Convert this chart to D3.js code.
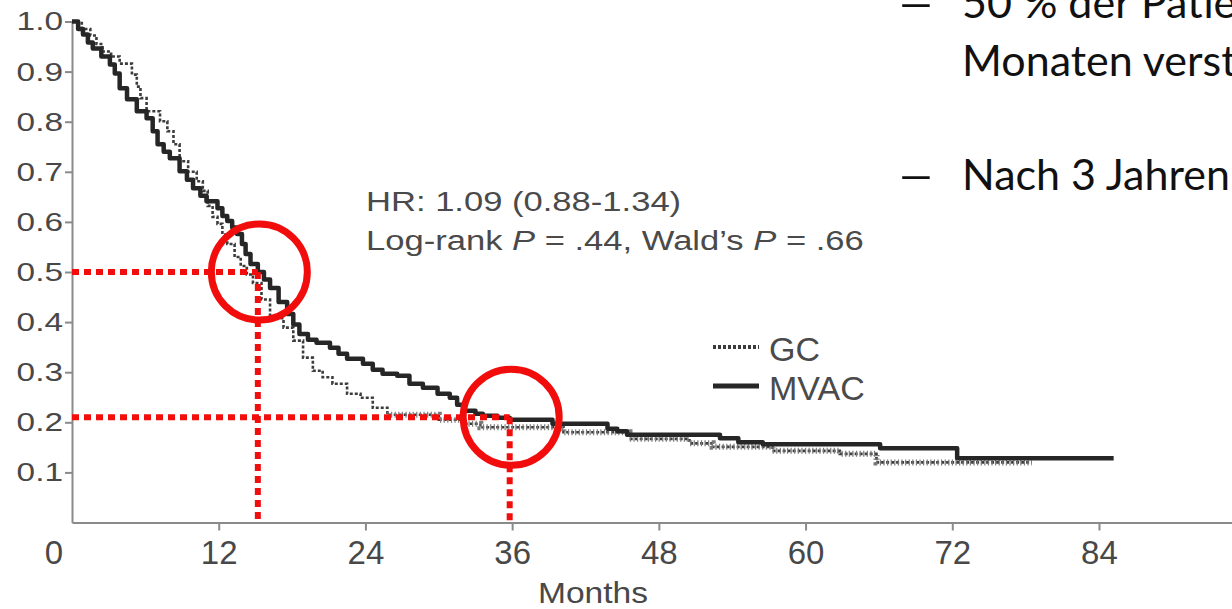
<!DOCTYPE html>
<html>
<head>
<meta charset="utf-8">
<script src="https://cdn.jsdelivr.net/npm/d3@7"></script>
<style>
	body { margin: 0; background: #fff; }
	svg { display: block; }
</style>
</head>
<body>
<div id="chart"></div>
<script>
const monthTicks = [12, 24, 36, 48, 60, 72, 84];
const survTicks = [0.1, 0.2, 0.3, 0.4, 0.5, 0.6, 0.7, 0.8, 0.9, 1.0];

const mvacMonths = [0, 0.5, 0.9, 1.3, 1.7, 2.4, 3.1, 3.5, 3.9, 4.5, 5.3, 6.1, 6.6, 7.0, 7.5, 8.0, 8.8, 9.4, 9.9, 10.5, 11.0, 11.9, 12.3, 12.7, 13.1, 13.5, 13.9, 14.2, 14.6, 15.2, 15.7, 16.2, 16.9, 17.6, 18.1, 18.6, 19.3, 20.0, 21.1, 21.8, 22.5, 23.8, 24.6, 25.4, 26.6, 27.6, 28.7, 29.9, 30.9, 31.5, 32.0, 33.0, 33.6, 34.8, 35.8, 39.3, 43.8, 44.6, 45.4, 53.0, 54.5, 56.5, 66.1, 72.4, 85.2];
const mvacSurv = [1.0, 0.985, 0.974, 0.958, 0.946, 0.93, 0.914, 0.896, 0.867, 0.845, 0.821, 0.807, 0.781, 0.755, 0.74, 0.727, 0.701, 0.684, 0.667, 0.652, 0.641, 0.627, 0.612, 0.602, 0.589, 0.576, 0.556, 0.536, 0.516, 0.5, 0.485, 0.468, 0.44, 0.416, 0.395, 0.376, 0.365, 0.359, 0.349, 0.337, 0.327, 0.317, 0.305, 0.297, 0.293, 0.277, 0.269, 0.257, 0.249, 0.235, 0.223, 0.217, 0.213, 0.209, 0.205, 0.197, 0.187, 0.182, 0.175, 0.168, 0.160, 0.156, 0.148, 0.128, 0.128];

const gcMonths = [0, 0.8, 1.5, 2.0, 2.5, 3.2, 3.9, 4.9, 5.3, 5.6, 6.1, 7.2, 7.8, 8.3, 8.8, 9.5, 10.2, 10.7, 11.1, 11.5, 11.9, 12.3, 12.7, 13.3, 13.8, 14.3, 14.8, 15.5, 16.2, 17.3, 18.1, 18.9, 19.7, 20.5, 21.3, 22.5, 23.6, 24.6, 25.8, 30.0, 32.0, 33.4, 40.2, 45.6, 50.5, 52.4, 57.3, 62.8, 65.8, 78.5];
const gcSurv = [1.0, 0.985, 0.972, 0.955, 0.94, 0.93, 0.916, 0.894, 0.87, 0.847, 0.821, 0.801, 0.781, 0.755, 0.721, 0.70, 0.681, 0.662, 0.632, 0.61, 0.596, 0.575, 0.556, 0.53, 0.512, 0.495, 0.478, 0.445, 0.408, 0.389, 0.363, 0.329, 0.303, 0.29, 0.277, 0.257, 0.249, 0.229, 0.215, 0.205, 0.197, 0.19, 0.18, 0.167, 0.158, 0.151, 0.143, 0.137, 0.120, 0.120];

// rote Markierungen: Median (~15 Monate) und 3-Jahres-Überleben
const markerMonths = [15.2, 35.8];
const markerSurv = [0.5, 0.21];

const legendLabels = ["GC", "MVAC"];
const statLine1 = "HR: 1.09 (0.88-1.34)";
const slideLines = ["50 % der Patienten", "Monaten verstorben", "Nach 3 Jahren"];

const width = 1232, height = 609;

const svg = d3.select("#chart")
	.append("svg")
	.attr("width", width)
	.attr("height", height)
	.attr("viewBox", `0 0 ${width} ${height}`);

const x = d3.scaleLinear().domain([0, 96]).range([72, 72 + 96 * 12.226]);
const y = d3.scaleLinear().domain([0, 1]).range([522.5, 21.5]);

const axisColor = "#8a8a8a";
const labelColor = "#484848";
const font = "'Liberation Sans', Arial, Helvetica, sans-serif";

// axe Y
const yAxis = svg.append("g")
	.attr("transform", `translate(${x(0)},0)`)
	.call(d3.axisLeft(y).tickValues(survTicks).tickSize(7).tickSizeOuter(0).tickPadding(9).tickFormat(d3.format(".1f")));
const ySx = 1.26;
yAxis.selectAll("text")
	.attr("x", -9 / ySx)
	.attr("transform", `scale(${ySx},1)`)
	.style("font-family", font).style("font-size", "26.5px").attr("fill", labelColor);

// axe X
const xAxis = svg.append("g")
	.attr("transform", `translate(0,${y(0)})`)
	.call(d3.axisBottom(x).tickValues(monthTicks).tickSize(8).tickSizeOuter(0).tickPadding(10).tickFormat(d => d));
xAxis.selectAll("text")
	.style("font-family", font).style("font-size", "33px").attr("fill", labelColor);
xAxis.append("text")
	.attr("x", x(0) - 18)
	.attr("y", 18)
	.attr("dy", "0.71em")
	.attr("text-anchor", "middle")
	.style("font-family", font).style("font-size", "33px").attr("fill", labelColor)
	.text("0");

[yAxis, xAxis].forEach(a => {
	a.select(".domain").attr("stroke", axisColor).attr("stroke-width", 2);
	a.selectAll(".tick line").attr("stroke", axisColor).attr("stroke-width", 2);
});

svg.append("text")
	.attr("transform", `translate(593,603) scale(1.12,1)`)
	.attr("text-anchor", "middle")
	.style("font-family", font).style("font-size", "30px").attr("fill", labelColor)
	.text("Months");

// courbes
const line = d3.line()
	.curve(d3.curveStepAfter)
	.x(d => x(d[0]))
	.y(d => y(d[1]));

const gcData = d3.zip(gcMonths, gcSurv);
const mvacData = d3.zip(mvacMonths, mvacSurv);

svg.append("path")
	.datum(gcData)
	.attr("fill", "none")
	.attr("stroke", "#3c3c3c")
	.attr("stroke-width", 2.6)
	.attr("stroke-dasharray", "3,2")
	.attr("d", line);

// traits de censure sur la queue de GC
svg.append("path")
	.datum(gcData.filter(d => d[0] >= 25.8))
	.attr("fill", "none")
	.attr("stroke", "#7a7a7a")
	.attr("stroke-width", 6)
	.attr("stroke-dasharray", "1.2,2.4")
	.attr("d", line);

svg.append("path")
	.datum(mvacData)
	.attr("fill", "none")
	.attr("stroke", "#262626")
	.attr("stroke-width", 4.5)
	.attr("stroke-linejoin", "round")
	.attr("d", line);

// texte statistique
const statSx = 1.235;
const stat = svg.append("g")
	.style("font-family", font).style("font-size", "28px").attr("fill", "#4a4a4a");
stat.append("text")
	.attr("transform", `translate(366,211) scale(${statSx},1)`)
	.text(statLine1);
const stat2 = stat.append("text")
	.attr("transform", `translate(366,250) scale(${statSx},1)`);
stat2.append("tspan").text("Log-rank ");
stat2.append("tspan").style("font-style", "italic").text("P");
stat2.append("tspan").text(" = .44, Wald\u2019s ");
stat2.append("tspan").style("font-style", "italic").text("P");
stat2.append("tspan").text(" = .66");

// légende
const legend = svg.append("g");
const legendY = [347, 386];
legend.append("line")
	.attr("x1", 713).attr("x2", 759).attr("y1", legendY[0]).attr("y2", legendY[0])
	.attr("stroke", "#3c3c3c").attr("stroke-width", 4).attr("stroke-dasharray", "3,2");
legend.append("line")
	.attr("x1", 713).attr("x2", 759).attr("y1", legendY[1]).attr("y2", legendY[1])
	.attr("stroke", "#262626").attr("stroke-width", 5);
legend.selectAll("text")
	.data(legendLabels)
	.join("text")
	.attr("x", 769)
	.attr("y", (d, i) => legendY[i] + 14)
	.style("font-family", font).style("font-size", "34px").attr("fill", "#4a4a4a")
	.text(d => d);

// annotations rouges
const red = "#f20d0d";
const marks = d3.zip(markerMonths, markerSurv);
const ann = svg.append("g");
ann.selectAll("line.h")
	.data(marks)
	.join("line")
	.attr("class", "h")
	.attr("x1", x(0)).attr("x2", d => x(d[0]))
	.attr("y1", d => y(d[1])).attr("y2", d => y(d[1]))
	.attr("stroke", red).attr("stroke-width", 6).attr("stroke-dasharray", "7,5");
ann.selectAll("line.v")
	.data(marks)
	.join("line")
	.attr("class", "v")
	.attr("x1", d => x(d[0])).attr("x2", d => x(d[0]))
	.attr("y1", d => y(d[1])).attr("y2", y(0))
	.attr("stroke", red).attr("stroke-width", 6).attr("stroke-dasharray", "7,5");
ann.selectAll("circle")
	.data(marks)
	.join("circle")
	.attr("cx", d => x(d[0]) + 1.5)
	.attr("cy", d => y(d[1]))
	.attr("r", 48)
	.attr("fill", "none")
	.attr("stroke", red)
	.attr("stroke-width", 7);

// texte de la diapositive (coupé à droite, comme sur la diapo)
const slideY = [18, 76, 190];
const slide = svg.append("g")
	.style("font-family", "Lato, 'Open Sans', sans-serif").style("font-size", "43px").attr("fill", "#111");
slide.selectAll("text.dash")
	.data([slideY[0], slideY[2]])
	.join("text")
	.attr("class", "dash")
	.attr("transform", d => `translate(896,${d}) scale(1.6,1)`)
	.text("\u2013");
slide.selectAll("text.l")
	.data(slideLines)
	.join("text")
	.attr("class", "l")
	.attr("x", 962)
	.attr("y", (d, i) => slideY[i])
	.text(d => d);
</script>
</body>
</html>
